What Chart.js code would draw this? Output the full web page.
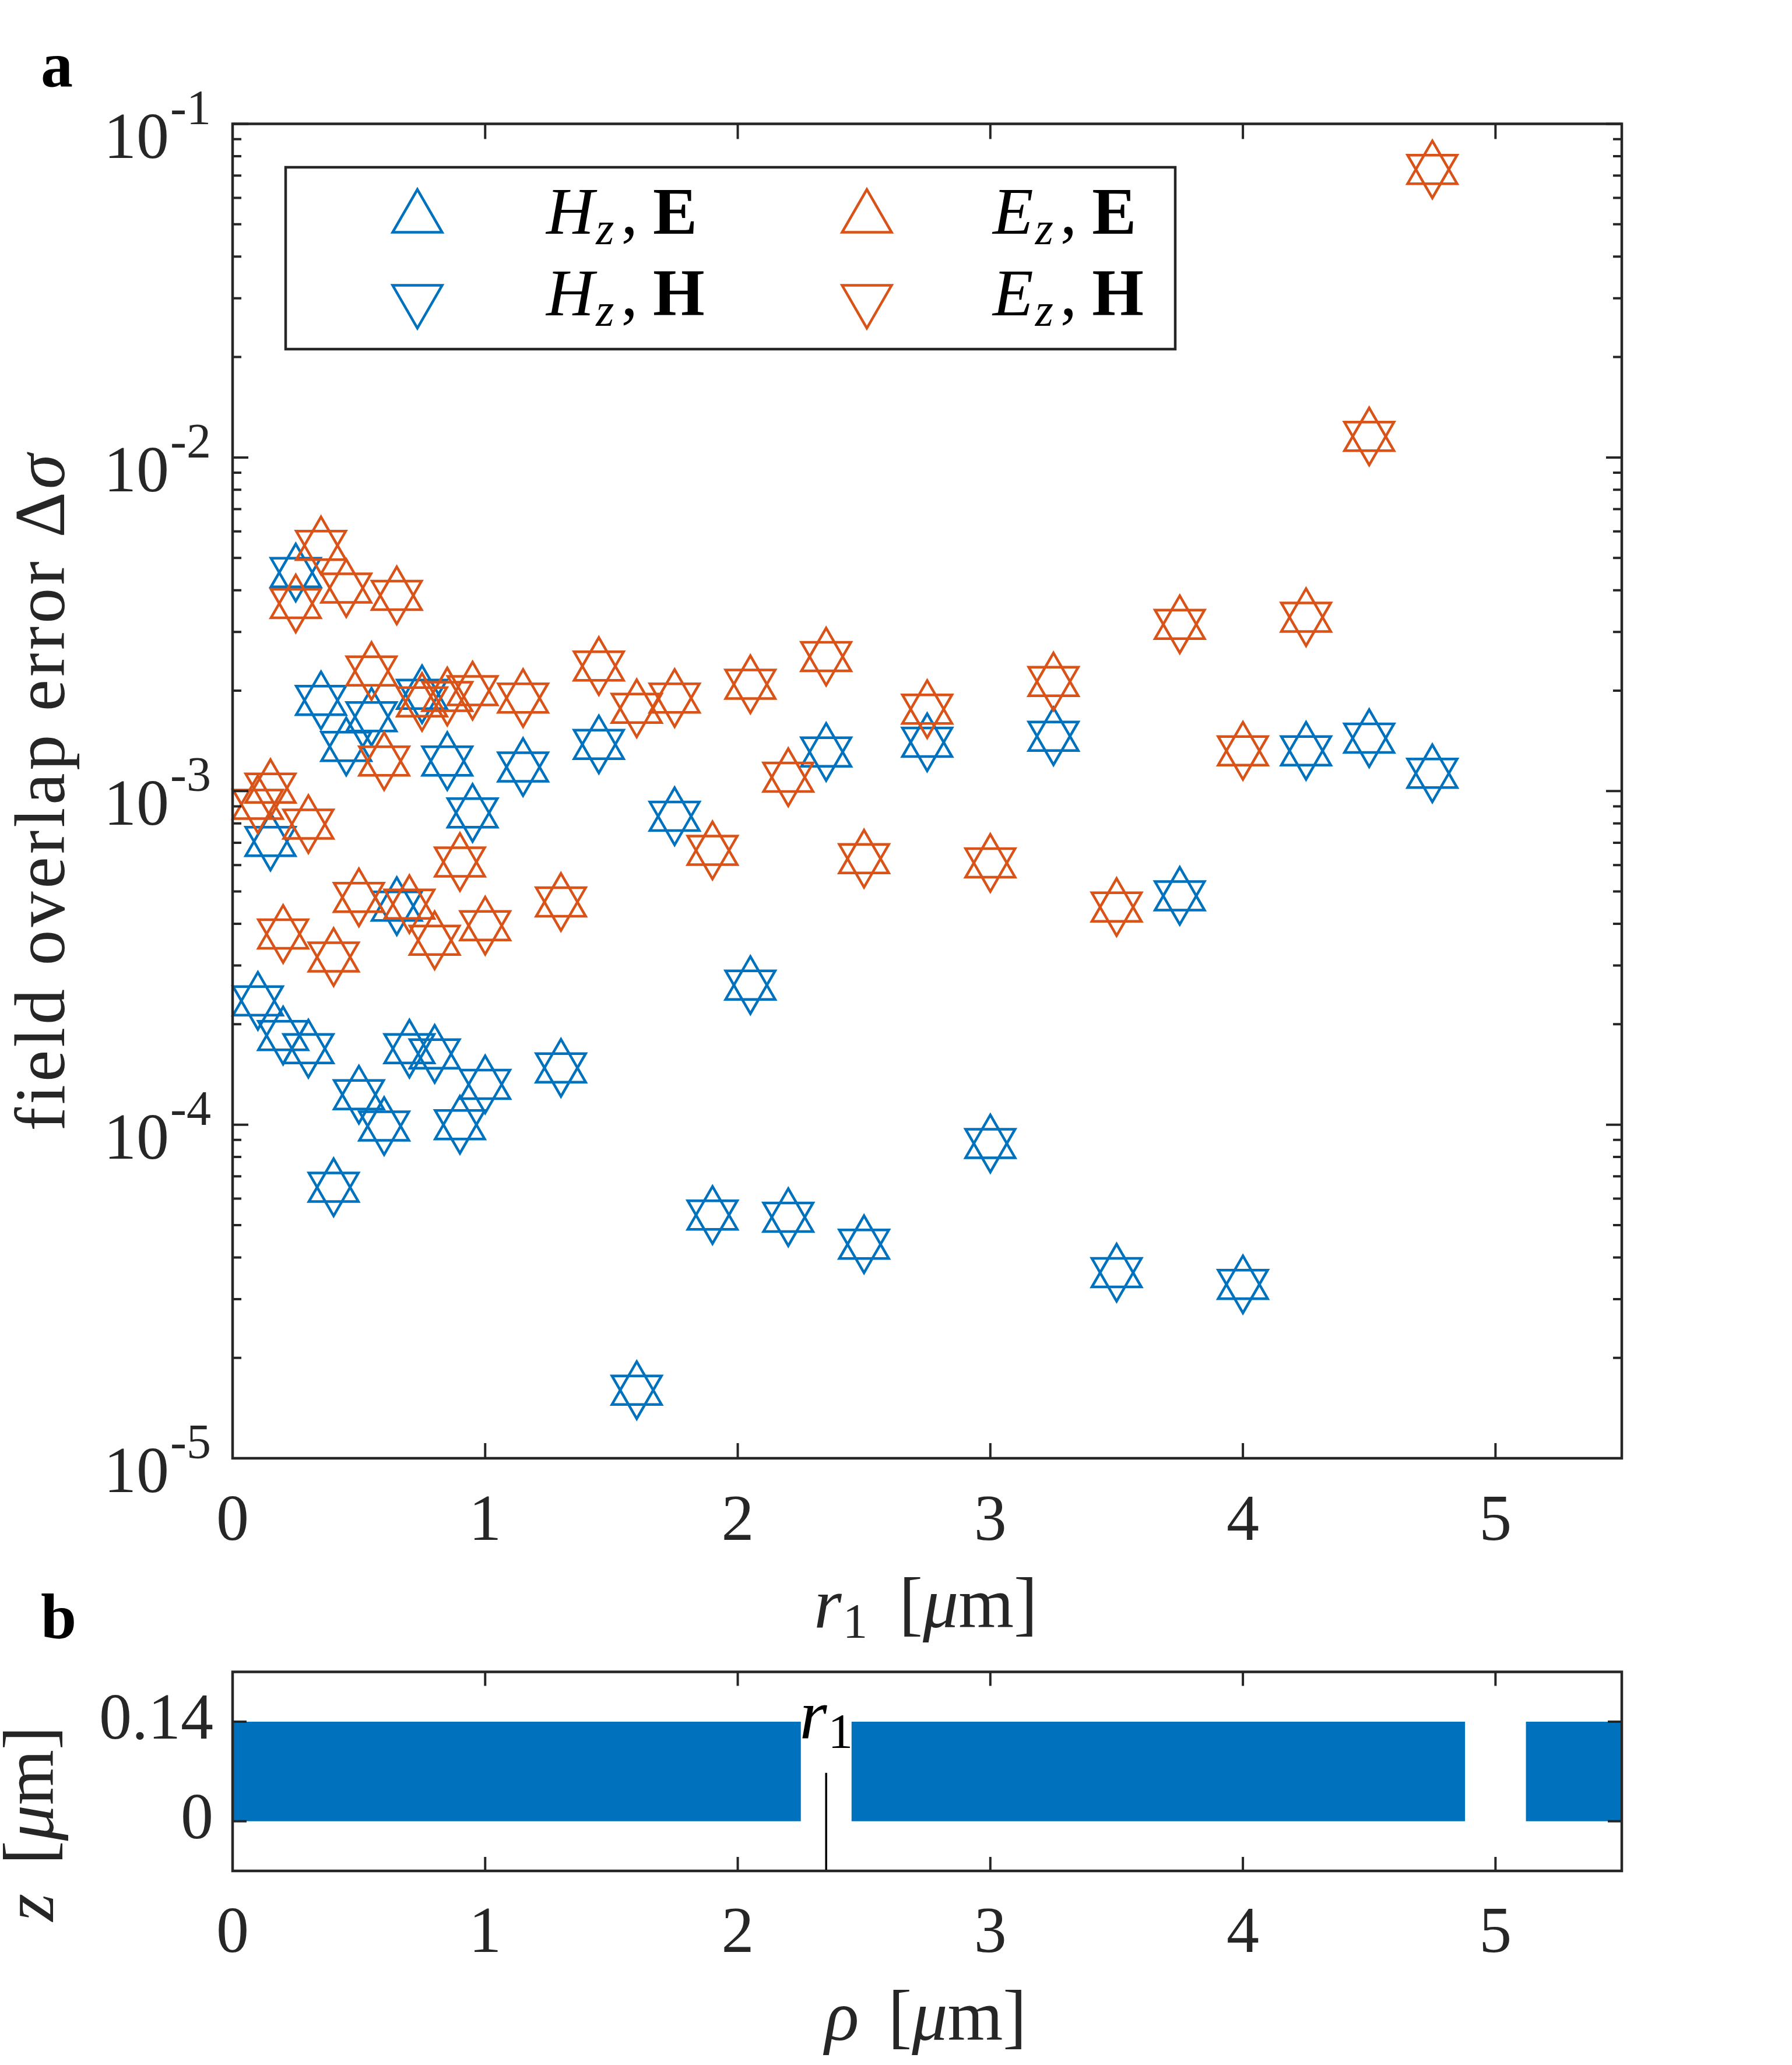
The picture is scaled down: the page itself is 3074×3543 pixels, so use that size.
<!DOCTYPE html>
<html>
<head>
<meta charset="utf-8">
<script src="https://cdn.jsdelivr.net/npm/chart.js@4.4.1/dist/chart.umd.min.js"></script>
<style>
  html, body { margin: 0; padding: 0; background: #fff; }
  #wrap { position: relative; width: 3074px; height: 3543px; background: #fff; }
  canvas { position: absolute; left: 0; }
  #topChart { top: 0; }
  #bottomChart { top: 2850px; }
</style>
</head>
<body>
<div id="wrap">
  <canvas id="topChart" width="3074" height="2850"></canvas>
  <canvas id="bottomChart" width="3074" height="693"></canvas>
</div>
<script>
// panel a: field overlap error vs r1 [um]
const r1Values = [0.1, 0.15, 0.2, 0.25, 0.3, 0.35, 0.4, 0.45, 0.5, 0.55, 0.6, 0.65, 0.7, 0.75, 0.8, 0.85, 0.9, 0.95, 1.0,
                  1.15, 1.3, 1.45, 1.6, 1.75, 1.9, 2.05, 2.2, 2.35, 2.5,
                  2.75, 3.0, 3.25, 3.5, 3.75, 4.0, 4.25, 4.5, 4.75];
const hzE = [2.35e-4, 7.06e-4, 1.85e-4, 4.52e-3, 1.69e-4, 1.87e-3, 6.49e-5, 1.36e-3, 1.23e-4, 1.67e-3, 9.9e-5, 4.52e-4, 1.69e-4, 1.95e-3, 1.63e-4, 1.23e-3, 1.0e-4, 8.6e-4, 1.32e-4,
             1.18e-3, 1.48e-4, 1.38e-3, 1.6e-5, 8.4e-4, 5.36e-5, 2.62e-4, 5.28e-5, 1.31e-3, 4.38e-5,
             1.40e-3, 8.78e-5, 1.46e-3, 3.6e-5, 4.85e-4, 3.32e-5, 1.32e-3, 1.44e-3, 1.13e-3];
const hzH = [2.35e-4, 7.06e-4, 1.85e-4, 4.52e-3, 1.69e-4, 1.87e-3, 6.49e-5, 1.36e-3, 1.23e-4, 1.67e-3, 9.9e-5, 4.52e-4, 1.69e-4, 1.95e-3, 1.63e-4, 1.23e-3, 1.0e-4, 8.6e-4, 1.32e-4,
             1.18e-3, 1.48e-4, 1.38e-3, 1.6e-5, 8.4e-4, 5.36e-5, 2.62e-4, 5.28e-5, 1.31e-3, 4.38e-5,
             1.40e-3, 8.78e-5, 1.46e-3, 3.6e-5, 4.85e-4, 3.32e-5, 1.32e-3, 1.44e-3, 1.13e-3];
const ezE = [9.13e-4, 1.02e-3, 3.73e-4, 3.65e-3, 7.96e-4, 5.45e-3, 3.18e-4, 4.06e-3, 4.8e-4, 2.29e-3, 1.23e-3, 3.86e-3, 4.58e-4, 1.85e-3, 3.57e-4, 1.92e-3, 6.13e-4, 2.0e-3, 3.95e-4,
             1.9e-3, 4.65e-4, 2.37e-3, 1.77e-3, 1.9e-3, 6.64e-4, 2.09e-3, 1.10e-3, 2.53e-3, 6.27e-4,
             1.76e-3, 6.09e-4, 2.13e-3, 4.49e-4, 3.16e-3, 1.32e-3, 3.32e-3, 1.156e-2, 7.3e-2];
const ezH = [9.13e-4, 1.02e-3, 3.73e-4, 3.65e-3, 7.96e-4, 5.45e-3, 3.18e-4, 4.06e-3, 4.8e-4, 2.29e-3, 1.23e-3, 3.86e-3, 4.58e-4, 1.85e-3, 3.57e-4, 1.92e-3, 6.13e-4, 2.0e-3, 3.95e-4,
             1.9e-3, 4.65e-4, 2.37e-3, 1.77e-3, 1.9e-3, 6.64e-4, 2.09e-3, 1.10e-3, 2.53e-3, 6.27e-4,
             1.76e-3, 6.09e-4, 2.13e-3, 4.49e-4, 3.16e-3, 1.32e-3, 3.32e-3, 1.156e-2, 7.3e-2];
const legendField = ['H', 'H', 'E', 'E'];
const legendVector = ['E', 'H', 'E', 'H'];

const xTickValues = [0, 1, 2, 3, 4, 5];
const yDecadeExps = [-5, -4, -3, -2, -1];
const minorMultiples = [2, 3, 4, 5, 6, 7, 8, 9];

// panel b: slab cross-section
const slabStart = [0, 2.45, 5.12];
const slabEnd = [2.25, 4.88, 5.5];
const slabTop = 0.14;
const zTickValues = [0, 0.14];
const zMin = -0.07, zMax = 0.21;
const r1Marker = 2.35;
const r1MarkerTop = 0.068;
const r1LabelBaseline = 0.116;

const BLUE = '#0072BD';
const ORANGE = '#D95319';
const AXIS = '#262626';
const SERIF = "'Liberation Serif', 'DejaVu Serif', serif";
const fnt = (size, style) => (style ? style + ' ' : '') + size + 'px ' + SERIF;

const pts = ys => r1Values.map((x, i) => ({ x: x, y: ys[i] }));

// draw a row of text pieces: [text, font, dy, gapBefore]
function drawRuns(ctx, runs, x, y, align) {
  let total = 0;
  runs.forEach(r => { ctx.font = r[1]; total += (r[3] || 0) + ctx.measureText(r[0]).width; });
  let cx = align === 'center' ? x - total / 2 : (align === 'right' ? x - total : x);
  runs.forEach(r => {
    ctx.font = r[1];
    cx += r[3] || 0;
    ctx.fillText(r[0], cx, y + (r[2] || 0));
    cx += ctx.measureText(r[0]).width;
  });
}

function triangle(ctx, x, y, radius, rotation) {
  if (Chart.helpers && Chart.helpers.drawPoint) {
    Chart.helpers.drawPoint(ctx, { pointStyle: 'triangle', rotation: rotation, radius: radius, borderWidth: 4.5 }, x, y);
    return;
  }
  let rad = rotation * Math.PI / 180;
  ctx.beginPath();
  for (let k = 0; k < 3; k++) {
    const px = x + Math.sin(rad) * radius, py = y - Math.cos(rad) * radius;
    k ? ctx.lineTo(px, py) : ctx.moveTo(px, py);
    rad += 2 * Math.PI / 3;
  }
  ctx.closePath();
  ctx.stroke();
}

// inward ticks on all four sides + box, like a matlab axes
function boxAxes(xTicks, xLen, yTicks) {
  return {
    id: 'boxAxes',
    afterDraw(chart) {
      const { ctx, chartArea: a, scales } = chart;
      ctx.save();
      ctx.strokeStyle = AXIS;
      ctx.lineWidth = 4;
      ctx.beginPath();
      xTicks.forEach(v => {
        const px = scales.x.getPixelForValue(v);
        ctx.moveTo(px, a.bottom); ctx.lineTo(px, a.bottom - xLen);
        ctx.moveTo(px, a.top); ctx.lineTo(px, a.top + xLen);
      });
      yTicks.forEach(t => {
        const py = scales.y.getPixelForValue(t[0]);
        ctx.moveTo(a.left, py); ctx.lineTo(a.left + t[1], py);
        ctx.moveTo(a.right, py); ctx.lineTo(a.right - t[1], py);
      });
      ctx.stroke();
      ctx.lineWidth = 4.5;
      ctx.strokeRect(a.left, a.top, a.right - a.left, a.bottom - a.top);
      ctx.restore();
    }
  };
}

const topYTicks = [];
yDecadeExps.forEach(e => {
  topYTicks.push([Math.pow(10, e), 27]);
  if (e < -1) minorMultiples.forEach(m => topYTicks.push([m * Math.pow(10, e), 15]));
});

const panelA = {
  id: 'panelA',
  afterDraw(chart) {
    const { ctx, scales } = chart;
    ctx.save();
    ctx.textAlign = 'left';
    ctx.textBaseline = 'alphabetic';

    // y tick labels 10^n
    ctx.fillStyle = AXIS;
    yDecadeExps.forEach(e => {
      const py = scales.y.getPixelForValue(Math.pow(10, e));
      drawRuns(ctx, [['10', fnt(112), 58], [String(e), fnt(84), 0, 2]], 362, py, 'right');
    });

    // axis titles
    ctx.save();
    ctx.translate(110, (chart.chartArea.top + chart.chartArea.bottom) / 2);
    ctx.rotate(-Math.PI / 2);
    if ('letterSpacing' in ctx) ctx.letterSpacing = '5px';
    drawRuns(ctx, [['field overlap error ', fnt(122)], ['\u0394', fnt(122)], ['\u03C3', fnt(122, 'italic')]], 0, 0, 'center');
    ctx.restore();
    drawRuns(ctx, [['r', fnt(122, 'italic')], ['1', fnt(85), 18, 2], ['[', fnt(122), 0, 54],
                   ['\u03BC', fnt(122, 'italic')], ['m', fnt(122)], [']', fnt(122)]], 1588, 2792, 'center');

    // panel letters
    ctx.fillStyle = '#000';
    ctx.font = fnt(110, 'bold');
    ctx.fillText('a', 70, 148);
    ctx.fillText('b', 70, 2811);

    // legend
    ctx.fillStyle = '#fff';
    ctx.fillRect(490, 287, 1526, 312);
    ctx.strokeStyle = AXIS;
    ctx.lineWidth = 4.5;
    ctx.strokeRect(490, 287, 1526, 312);
    const cols = [[716, 937, BLUE], [1487, 1703, ORANGE]];
    const rows = [[374, 401, 0], [514, 541, 180]];
    for (let i = 0; i < 4; i++) {
      const c = cols[Math.floor(i / 2)], r = rows[i % 2];
      ctx.strokeStyle = c[2];
      ctx.fillStyle = 'rgba(0,0,0,0)';
      ctx.lineWidth = 4.5;
      triangle(ctx, c[0], r[0], 49, r[2]);
      ctx.fillStyle = '#000';
      let tx = c[1];
      ctx.font = fnt(114, 'italic');
      ctx.fillText(legendField[i], tx, r[1]);
      tx += ctx.measureText(legendField[i]).width + 3;
      ctx.font = fnt(80, 'italic');
      ctx.fillText('z', tx, r[1] + 18);
      tx += ctx.measureText('z').width + 12;
      ctx.font = fnt(114);
      ctx.fillText(',', tx, r[1]);
      tx += ctx.measureText(',').width + 26;
      ctx.font = fnt(114, 'bold');
      ctx.fillText(legendVector[i], tx, r[1]);
    }
    ctx.restore();
  }
};

const panelB = {
  id: 'panelB',
  afterDraw(chart) {
    const { ctx, scales } = chart;
    ctx.save();
    ctx.textAlign = 'left';
    ctx.textBaseline = 'alphabetic';
    ctx.fillStyle = '#000';
    drawRuns(ctx, [['r', fnt(121, 'italic')], ['1', fnt(85), 16, 2]],
             scales.x.getPixelForValue(r1Marker), scales.y.getPixelForValue(r1LabelBaseline), 'center');
    ctx.fillStyle = AXIS;
    ctx.save();
    ctx.translate(91, 279);
    ctx.rotate(-Math.PI / 2);
    drawRuns(ctx, [['z', fnt(122, 'italic')], ['[', fnt(122), 0, 50], ['\u03BC', fnt(122, 'italic')],
                   ['m', fnt(122)], [']', fnt(122)]], 0, 0, 'center');
    ctx.restore();
    drawRuns(ctx, [['\u03C1', fnt(122, 'italic')], ['[', fnt(122), 0, 50], ['\u03BC', fnt(122, 'italic')],
                   ['m', fnt(122)], [']', fnt(122)]], 1588, 650, 'center');
    ctx.restore();
  }
};

const tickFont = { family: SERIF, size: 112 };
const noPad = s => { s.paddingLeft = 0; s.paddingRight = 0; s.paddingTop = 0; s.paddingBottom = 0; };

const markerSets = [
  ['H_z, E', hzE, BLUE, 0, 4],
  ['H_z, H', hzH, BLUE, 180, 3],
  ['E_z, E', ezE, ORANGE, 0, 2],
  ['E_z, H', ezH, ORANGE, 180, 1]
].map(d => ({
  label: d[0], data: pts(d[1]), order: d[4], clip: false, showLine: false,
  pointStyle: 'triangle', pointRotation: d[3], pointRadius: 49, pointHoverRadius: 49,
  pointBorderWidth: 4.5, pointHoverBorderWidth: 4.5,
  pointBorderColor: d[2], pointBackgroundColor: 'rgba(0,0,0,0)',
  borderColor: d[2], backgroundColor: 'rgba(0,0,0,0)'
}));

new Chart(document.getElementById('topChart'), {
  type: 'scatter',
  data: { datasets: markerSets },
  options: {
    responsive: false,
    animation: false,
    devicePixelRatio: 1,
    events: [],
    layout: { padding: { left: 399, right: 292, top: 212.5, bottom: 148 } },
    plugins: { legend: { display: false }, tooltip: { enabled: false } },
    scales: {
      x: {
        type: 'linear', min: 0, max: 5.5,
        afterBuildTicks: s => { s.ticks = xTickValues.map(v => ({ value: v })); },
        afterFit: s => { s.height = 200; noPad(s); },
        grid: { display: false, drawTicks: false },
        border: { display: false },
        ticks: { font: tickFont, color: AXIS, padding: 43, maxRotation: 0, autoSkip: false, callback: v => String(v) }
      },
      y: { type: 'logarithmic', min: 1e-5, max: 1e-1, display: false }
    }
  },
  plugins: [boxAxes(xTickValues, 26, topYTicks), panelA]
});

const slabSets = slabStart.map((s, i) => ({
  data: [{ x: s, y: slabTop }, { x: slabEnd[i], y: slabTop }],
  fill: 'origin', backgroundColor: BLUE, borderColor: 'rgba(0,0,0,0)', borderWidth: 0,
  pointRadius: 0, tension: 0, order: 1
}));
slabSets.push({
  data: [{ x: r1Marker, y: zMin }, { x: r1Marker, y: r1MarkerTop }],
  fill: false, borderColor: '#000', borderWidth: 3.5, pointRadius: 0, order: 0
});

new Chart(document.getElementById('bottomChart'), {
  type: 'line',
  data: { datasets: slabSets },
  options: {
    responsive: false,
    animation: false,
    devicePixelRatio: 1,
    events: [],
    layout: { padding: { left: 0, right: 292, top: 18.5, bottom: 183 } },
    plugins: { legend: { display: false }, tooltip: { enabled: false } },
    scales: {
      x: {
        type: 'linear', min: 0, max: 5.5,
        afterBuildTicks: s => { s.ticks = xTickValues.map(v => ({ value: v })); },
        afterFit: s => { s.height = 150; noPad(s); },
        grid: { display: false, drawTicks: false },
        border: { display: false },
        ticks: { font: tickFont, color: AXIS, padding: 42, maxRotation: 0, autoSkip: false, callback: v => String(v) }
      },
      y: {
        type: 'linear', min: zMin, max: zMax,
        afterBuildTicks: s => { s.ticks = zTickValues.map(v => ({ value: v })); },
        afterFit: s => { s.width = 399; noPad(s); },
        grid: { display: false, drawTicks: false },
        border: { display: false },
        ticks: { font: tickFont, color: AXIS, padding: 33, autoSkip: false, callback: v => String(v) }
      }
    }
  },
  plugins: [boxAxes(xTickValues, 24, zTickValues.map(v => [v, 24])), panelB]
});
</script>
</body>
</html>
